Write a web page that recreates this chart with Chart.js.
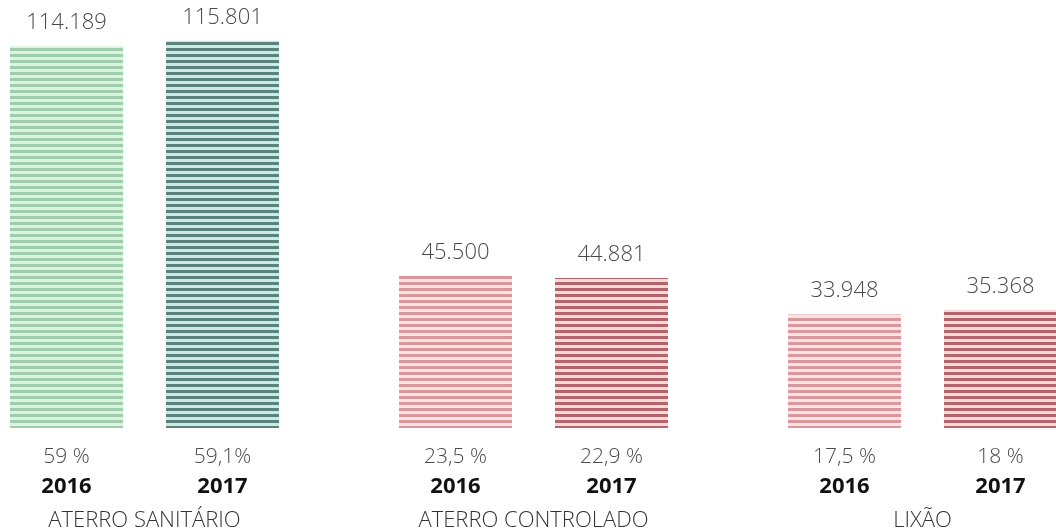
<!DOCTYPE html>
<html>
<head>
<meta charset="utf-8">
<script src="https://cdn.jsdelivr.net/npm/chart.js@4.4.0/dist/chart.umd.min.js"></script>
<style>
    html, body { margin: 0; padding: 0; background: #fff; overflow: hidden; }
    #wrap { position: absolute; left: -50px; top: 0; width: 1167px; height: 530px; }
</style>
</head>
<body>
<div id="wrap"><canvas id="myChart" width="1167" height="530"></canvas></div>
<script>
var categories = ['ATERRO SANITÁRIO', 'ATERRO CONTROLADO', 'LIXÃO'];
var years = ['2016', '2017'];
var values2016 = [114.189, 45.500, 33.948];
var values2017 = [115.801, 44.881, 35.368];
var percents2016 = ['59 %', '23,5 %', '17,5 %'];
var percents2017 = ['59,1%', '22,9 %', '18 %'];
var valueLabels2016 = ['114.189', '45.500', '33.948'];
var valueLabels2017 = ['115.801', '44.881', '35.368'];

// полосатая заливка
function stripes(line, gap) {
    var c = document.createElement('canvas');
    c.width = 6;
    c.height = 6;
    var g = c.getContext('2d');
    g.fillStyle = gap;
    g.fillRect(0, 0, 6, 6);
    g.fillStyle = line;
    g.fillRect(0, 0, 6, 3);
    return g.createPattern(c, 'repeat');
}

var green16 = stripes('#9fccaa', '#dcf3e2');
var green17 = stripes('#5a837b', '#cde9e5');
var red16 = stripes('#d9979c', '#ffe2e2');
var red17 = stripes('#b3656b', '#f9d8d8');

var labelsPlugin = {
    id: 'labels',
    afterDatasetsDraw: function (chart) {
        var ctx = chart.ctx;
        var texts = [
            { val: valueLabels2016, pct: percents2016 },
            { val: valueLabels2017, pct: percents2017 }
        ];
        ctx.save();
        ctx.textAlign = 'center';
        ctx.textBaseline = 'alphabetic';
        chart.data.datasets.forEach(function (ds, d) {
            var meta = chart.getDatasetMeta(d);
            meta.data.forEach(function (bar, i) {
                ctx.fillStyle = '#4a4a4a';
                ctx.font = '300 22px "Open Sans"';
                ctx.fillText(texts[d].val[i], bar.x, bar.y - 17);
                ctx.font = '300 21px "Open Sans"';
                ctx.fillText(texts[d].pct[i], bar.x, 463);
                ctx.fillStyle = '#111';
                ctx.font = 'bold 22px "Open Sans"';
                ctx.fillText(ds.label, bar.x, 493);
            });
        });
        var xs = chart.scales.x;
        ctx.fillStyle = '#333';
        ctx.font = '300 22px "Open Sans"';
        categories.forEach(function (c, i) {
            ctx.fillText(c, xs.getPixelForValue(i), 527);
        });
        ctx.restore();
    }
};

var ctx = document.getElementById('myChart');
var myChart = new Chart(ctx, {
    type: 'bar',
    data: {
        labels: categories,
        datasets: [{
            label: years[0],
            data: values2016,
            backgroundColor: [green16, red16, red16],
            borderWidth: 0
        }, {
            label: years[1],
            data: values2017,
            backgroundColor: [green17, red17, red17],
            borderWidth: 0
        }]
    },
    options: {
        responsive: false,
        animation: false,
        devicePixelRatio: 1,
        categoryPercentage: 0.802,
        barPercentage: 0.724,
        layout: { padding: { top: 0, bottom: 102, left: 0, right: 0 } },
        plugins: {
            legend: { display: false },
            tooltip: { enabled: false }
        },
        scales: {
            x: { display: false },
            y: { display: false, min: 0, max: 128 }
        }
    },
    plugins: [labelsPlugin]
});
</script>
</body>
</html>
